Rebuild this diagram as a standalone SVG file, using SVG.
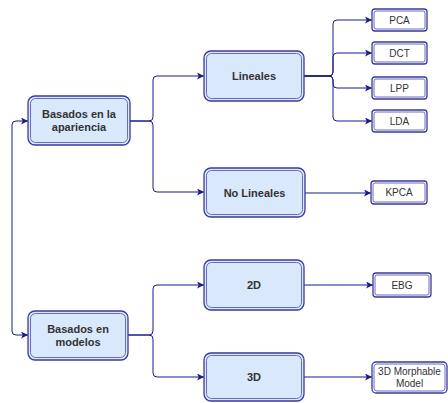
<svg xmlns="http://www.w3.org/2000/svg" width="448" height="403" viewBox="0 0 448 403">
<defs>
<marker id="arr" viewBox="0 0 10 10" refX="10" refY="5" markerWidth="7" markerHeight="7" markerUnits="userSpaceOnUse" orient="auto-start-reverse">
<path d="M0 0 L10 5 L0 10 L2.5 5 Z" fill="#1a1a8a"/>
</marker>
</defs>
<style>
.bg{fill:#ffffff}
.big .o{fill:#dae8fc;stroke:#3a3a9a;stroke-width:1.3}
.big .i{fill:none;stroke:#6a6ac0;stroke-width:1}
.sm .o{fill:#ffffff;stroke:#3a3a9a;stroke-width:1.3}
.sm .i{fill:none;stroke:#6a6ac0;stroke-width:1}
.bt{font-family:"Liberation Sans",Arial,sans-serif;font-size:11px;font-weight:bold;fill:#333333;text-anchor:middle}
.st{font-family:"Liberation Sans",Arial,sans-serif;font-size:10px;fill:#333333;text-anchor:middle}
.c{fill:none;stroke:#1a1a8a;stroke-width:1;marker-end:url(#arr)}
</style>
<rect class="bg" width="448" height="403"/>
<g id="connectors">
<path class="c" d="M28 121 H16 Q12 121 12 125 V331 Q12 335 16 335 H28" marker-start="url(#arr)"/>
<path class="c" d="M130 121 H149 Q153 121 153 117 V80 Q153 76 157 76 H204"/>
<path class="c" d="M130 121 H149 Q153 121 153 125 V188 Q153 192 157 192 H204"/>
<path class="c" d="M128 335 H149 Q153 335 153 331 V289 Q153 285 157 285 H204"/>
<path class="c" d="M128 335 H149 Q153 335 153 339 V373 Q153 377 157 377 H204"/>
<path class="c" d="M304 76 H329 Q333 76 333 72 V24 Q333 20 337 20 H372"/>
<path class="c" d="M304 76 H329 Q333 76 333 72 V57 Q333 53 337 53 H372"/>
<path class="c" d="M304 76 H329 Q333 76 333 80 V84 Q333 88 337 88 H372"/>
<path class="c" d="M304 76 H329 Q333 76 333 80 V117 Q333 121 337 121 H372"/>
<path class="c" d="M305 193 H371"/>
<path class="c" d="M304 285 H373"/>
<path class="c" d="M304 377 H372"/>
</g>
<g id="n_apariencia" class="big">
<rect class="o" x="28" y="96" width="102" height="49" rx="7"/>
<rect class="i" x="30.5" y="98.5" width="97" height="44" rx="5"/>
<text class="bt" x="79" y="118">Basados en la</text>
<text class="bt" x="79" y="131">apariencia</text>
</g>
<g id="n_modelos" class="big">
<rect class="o" x="28" y="311" width="100" height="49" rx="7"/>
<rect class="i" x="30.5" y="313.5" width="95" height="44" rx="5"/>
<text class="bt" x="78" y="333">Basados en</text>
<text class="bt" x="78" y="346">modelos</text>
</g>
<g id="n_lineales" class="big">
<rect class="o" x="204" y="51" width="100" height="50" rx="7"/>
<rect class="i" x="206.5" y="53.5" width="95" height="45" rx="5"/>
<text class="bt" x="254" y="80">Lineales</text>
</g>
<g id="n_nolineales" class="big">
<rect class="o" x="204" y="168" width="101" height="49" rx="7"/>
<rect class="i" x="206.5" y="170.5" width="96" height="44" rx="5"/>
<text class="bt" x="254.5" y="197">No Lineales</text>
</g>
<g id="n_2d" class="big">
<rect class="o" x="204" y="260" width="100" height="50" rx="7"/>
<rect class="i" x="206.5" y="262.5" width="95" height="45" rx="5"/>
<text class="bt" x="254" y="289">2D</text>
</g>
<g id="n_3d" class="big">
<rect class="o" x="204" y="353" width="100" height="48" rx="7"/>
<rect class="i" x="206.5" y="355.5" width="95" height="43" rx="5"/>
<text class="bt" x="254" y="381">3D</text>
</g>
<g id="n_pca" class="sm">
<rect class="o" x="372" y="9" width="55" height="22" rx="3"/>
<rect class="i" x="374" y="11" width="51" height="18" rx="2"/>
<text class="st" x="399.5" y="23.5">PCA</text>
</g>
<g id="n_dct" class="sm">
<rect class="o" x="372" y="42" width="55" height="22" rx="3"/>
<rect class="i" x="374" y="44" width="51" height="18" rx="2"/>
<text class="st" x="399.5" y="56.5">DCT</text>
</g>
<g id="n_lpp" class="sm">
<rect class="o" x="372" y="77" width="55" height="22" rx="3"/>
<rect class="i" x="374" y="79" width="51" height="18" rx="2"/>
<text class="st" x="399.5" y="91.5">LPP</text>
</g>
<g id="n_lda" class="sm">
<rect class="o" x="372" y="110" width="55" height="22" rx="3"/>
<rect class="i" x="374" y="112" width="51" height="18" rx="2"/>
<text class="st" x="399.5" y="124.5">LDA</text>
</g>
<g id="n_kpca" class="sm">
<rect class="o" x="371" y="181" width="56" height="23" rx="3"/>
<rect class="i" x="373" y="183" width="52" height="19" rx="2"/>
<text class="st" x="399" y="196">KPCA</text>
</g>
<g id="n_ebg" class="sm">
<rect class="o" x="373" y="273" width="58" height="24" rx="3"/>
<rect class="i" x="375" y="275" width="54" height="20" rx="2"/>
<text class="st" x="402" y="289">EBG</text>
</g>
<g id="n_3dmm" class="sm">
<rect class="o" x="372" y="362" width="75" height="31" rx="4"/>
<rect class="i" x="374" y="364" width="71" height="27" rx="3"/>
<text class="st" x="409.5" y="375">3D Morphable</text>
<text class="st" x="409.5" y="387">Model</text>
</g>
</svg>
